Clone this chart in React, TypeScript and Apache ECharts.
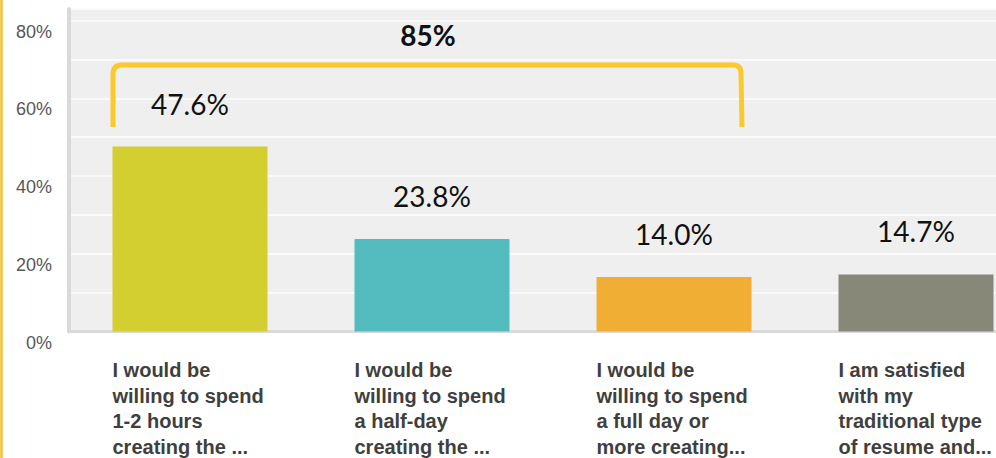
import React, { useEffect, useRef } from "react";
import * as echarts from "echarts";

const categories = [
  "I would be\nwilling to spend\n1-2 hours\ncreating the ...",
  "I would be\nwilling to spend\na half-day\ncreating the ...",
  "I would be\nwilling to spend\na full day or\nmore creating...",
  "I am satisfied\nwith my\ntraditional type\nof resume and...",
];
const values = [47.6, 23.8, 14.0, 14.7];
const barColors = ["#D3CF31", "#54BBBF", "#F0AE35", "#888879"];
const yLabelStep = 20;
const bracketText = "85%";

const BRACKET_D =
  "M113,127 L113,74 Q113,65 122,65 L733,65 Q741,65 741,73 L742,127";

let registered = false;
function ensureShapes() {
  if (registered) return;
  echarts.graphic.registerShape(
    "bracket",
    echarts.graphic.extendPath(BRACKET_D, {}) as any
  );
  registered = true;
}

export default function App() {
  const ref = useRef<HTMLDivElement>(null);
  useEffect(() => {
    if (!ref.current) return;
    ensureShapes();
    const chart = echarts.init(ref.current, undefined, { renderer: "svg" });
    chart.setOption({
      animation: false,
      backgroundColor: "#ffffff",
      grid: {
        left: 69,
        top: 9,
        width: 968,
        bottom: 126.5,
        show: true,
        backgroundColor: "#EFEFEF",
        borderWidth: 0,
        containLabel: false,
        outerBoundsMode: "none",
      },
      xAxis: {
        type: "category",
        data: categories,
        boundaryGap: true,
        axisLine: { show: true, lineStyle: { color: "#DADADA", width: 3 } },
        axisTick: { show: false },
        splitLine: { show: false },
        axisLabel: {
          interval: 0,
          align: "left",
          verticalAlign: "top",
          margin: 25.7,
          padding: [0, 0, 0, -77.5],
          lineHeight: 25.7,
          fontFamily: "Liberation Sans, Arial, sans-serif",
          fontWeight: "bold",
          fontSize: 20,
          color: "#3F3F3F",
        },
      },
      yAxis: {
        type: "value",
        min: 0,
        max: 83,
        interval: 10,
        axisLine: { show: true, lineStyle: { color: "#DADADA", width: 4 } },
        axisTick: { show: false },
        splitLine: { show: true, lineStyle: { color: "#FAFAFA", width: 2 } },
        axisLabel: {
          margin: 17,
          verticalAlign: "top",
          padding: [2, 0, 0, 0],
          fontFamily: "Liberation Sans, Arial, sans-serif",
          fontSize: 18,
          color: "#575757",
          formatter: (v: number) =>
            v % yLabelStep === 0 ? `${v}%` : "",
        },
      },
      series: [
        {
          type: "bar",
          barWidth: 155,
          data: values.map((v, i) => ({
            value: v,
            itemStyle: { color: barColors[i] },
          })),
          label: {
            show: true,
            position: "top",
            distance: 29,
            formatter: (p: any) => `${Number(p.value).toFixed(1)}%`,
            fontFamily: "Lato, sans-serif",
            fontSize: 28,
            color: "#111111",
          },
        },
      ],
      graphic: [
        {
          type: "line",
          shape: { x1: 1.5, y1: 0, x2: 1.5, y2: 458 },
          style: { stroke: "#F5C12E", lineWidth: 2.5 },
          z: 10,
        },
        {
          type: "bracket",
          x: 0,
          y: 0,
          style: { stroke: "#FAC92B", lineWidth: 5, fill: null },
          z: 10,
        },
        {
          type: "text",
          x: 428,
          y: 35,
          style: {
            text: bracketText,
            fontFamily: "Lato, sans-serif",
            fontWeight: "bold",
            fontSize: 28,
            fill: "#111111",
            align: "center",
            verticalAlign: "middle",
          },
          z: 10,
        },
      ],
    });
    return () => chart.dispose();
  }, []);

  return (
    <div
      style={{
        position: "absolute",
        left: 0,
        top: 0,
        width: 996,
        height: 458,
        overflow: "hidden",
        background: "#fff",
      }}
    >
      <div ref={ref} style={{ width: 1040, height: 458 }} />
    </div>
  );
}
